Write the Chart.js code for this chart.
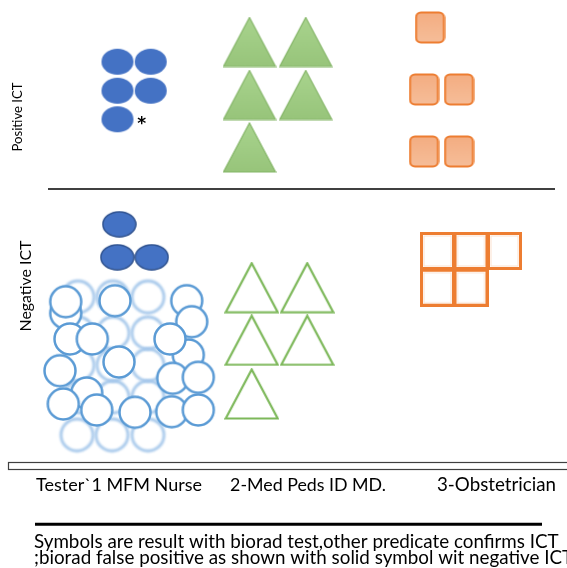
<!DOCTYPE html>
<html>
<head>
<meta charset="utf-8">
<title>ICT symbols by tester</title>
<script src="https://cdn.jsdelivr.net/npm/chart.js@4.4.1/dist/chart.umd.min.js"></script>
<style>
    html, body { margin: 0; padding: 0; background: #ffffff; }
    #chart { display: block; }
</style>
</head>
<body>
<canvas id="chart" width="567" height="568"></canvas>
<script>
// Tester groups and the two ICT result rows
const categories = ['Tester`1 MFM Nurse', '2-Med Peds ID MD.', '3-Obstetrician'];
const categoryCenters = [119, 308, 496.5];
const rowLabels = ['Positive ICT', 'Negative ICT'];
const captionLines = [
    'Symbols are result with biorad test,other predicate confirms ICT',
    ';biorad false positive as shown with solid symbol wit negative ICT'
];

// Symbol positions (figure units, y counted from the top)
const tester1Positive = [[117.5, 61.7], [150.7, 61.7], [117.5, 90.7], [150.7, 90.7], [117.5, 119.3]];
const tester1FalsePositive = [[119.3, 224.3], [117.3, 257.3], [151.7, 257.3]];
const tester1NegativeBack = [
    [78, 297], [113, 297], [148, 297],
    [78, 333], [113, 333], [148, 333],
    [78, 365], [113, 365], [148, 365],
    [80, 397], [113, 397], [148, 397],
    [77, 435], [112, 435], [148, 435]
];
const tester1Negative = [
    [65.7, 313.3], [65.7, 301.7], [115, 300.7], [186.7, 300.7], [191.7, 321.7],
    [70, 339], [92.3, 339], [188.3, 355], [170, 339], [119, 362],
    [60, 370.7], [86.7, 393], [172.7, 378.3], [198.3, 377.3],
    [63.3, 404], [96.7, 410], [135, 412.3], [171.7, 411.7], [198.3, 410]
];
const tester2Positive = [[249.5, 42], [305.7, 42], [249.5, 95], [305.7, 95], [249.5, 147.5]];
const tester2Negative = [[251.7, 287.7], [307.2, 287.7], [251.7, 340.3], [307.2, 340.3], [251.7, 394]];
const tester3Positive = [[430, 27.5], [424, 89.5], [459, 89.5], [424, 151.5], [459, 151.5]];
const tester3Negative = [[437.5, 251], [471, 251], [504.5, 251], [437.5, 287.7], [471, 287.7]];

const FONT = 'Lato, "Open Sans", sans-serif';

function toPoints(list) {
    return list.map(p => ({ x: p[0], y: p[1] }));
}

// Small offscreen canvases used as point styles
function sprite(w, h, draw) {
    const c = document.createElement('canvas');
    c.width = w;
    c.height = h;
    draw(c.getContext('2d'), w, h);
    return c;
}

const solidEllipse = sprite(34, 28, (ctx, w, h) => {
    ctx.filter = 'blur(0.5px)';
    ctx.fillStyle = '#4472C4';
    ctx.beginPath();
    ctx.ellipse(w / 2, h / 2, w / 2 - 1, h / 2 - 1, 0, 0, Math.PI * 2);
    ctx.fill();
});

const outlinedEllipse = sprite(35, 27, (ctx, w, h) => {
    ctx.fillStyle = '#4472C4';
    ctx.strokeStyle = '#2F528F';
    ctx.lineWidth = 1.5;
    ctx.beginPath();
    ctx.ellipse(w / 2, h / 2, w / 2 - 1, h / 2 - 1, 0, 0, Math.PI * 2);
    ctx.fill();
    ctx.stroke();
});

const openCircle = sprite(36, 36, (ctx, w, h) => {
    ctx.fillStyle = '#ffffff';
    ctx.strokeStyle = '#5B9BD5';
    ctx.lineWidth = 2.5;
    ctx.beginPath();
    ctx.arc(w / 2, h / 2, 15.5, 0, Math.PI * 2);
    ctx.fill();
    ctx.stroke();
});

const fadedCircle = sprite(42, 42, (ctx, w, h) => {
    ctx.filter = 'blur(1.1px)';
    ctx.strokeStyle = '#A3C6EA';
    ctx.lineWidth = 2.8;
    ctx.beginPath();
    ctx.arc(w / 2, h / 2, 16, 0, Math.PI * 2);
    ctx.stroke();
});

const solidTriangle = sprite(54, 51, (ctx, w, h) => {
    const g = ctx.createLinearGradient(0, 0, 0, h);
    g.addColorStop(0, '#A9D48E');
    g.addColorStop(1, '#97C47A');
    ctx.fillStyle = g;
    ctx.strokeStyle = '#84B567';
    ctx.lineWidth = 1.2;
    ctx.beginPath();
    ctx.moveTo(w / 2, 1);
    ctx.lineTo(w - 1, h - 1);
    ctx.lineTo(1, h - 1);
    ctx.closePath();
    ctx.fill();
    ctx.stroke();
});

const openTriangle = sprite(55, 52, (ctx, w, h) => {
    ctx.fillStyle = '#ffffff';
    ctx.strokeStyle = '#7DB85A';
    ctx.lineWidth = 2.2;
    ctx.beginPath();
    ctx.moveTo(w / 2, 1.5);
    ctx.lineTo(w - 1.5, h - 1.5);
    ctx.lineTo(1.5, h - 1.5);
    ctx.closePath();
    ctx.fill();
    ctx.stroke();
});

const solidSquare = sprite(31, 33, (ctx, w, h) => {
    const g = ctx.createLinearGradient(0, 0, 0, h);
    g.addColorStop(0, '#F3AC80');
    g.addColorStop(1, '#F6BE9A');
    ctx.fillStyle = g;
    ctx.strokeStyle = '#ED7D31';
    ctx.lineWidth = 2.2;
    ctx.beginPath();
    ctx.roundRect(1.5, 1.5, w - 3, h - 3, 5);
    ctx.fill();
    ctx.stroke();
});

const openSquare = sprite(35, 38, (ctx, w, h) => {
    ctx.strokeStyle = '#ED7D31';
    ctx.lineWidth = 3;
    ctx.strokeRect(1.5, 1.5, w - 3, h - 3);
    ctx.strokeStyle = '#FBE2D0';
    ctx.lineWidth = 1;
    ctx.strokeRect(4, 4, w - 8, h - 8);
});

function symbolSet(label, list, style, order) {
    return {
        label,
        data: toPoints(list),
        pointStyle: style,
        pointRadius: 10,
        pointHoverRadius: 10,
        order
    };
}

// Fit a text to the width it takes in the picture
function fitFont(ctx, text, width, weight) {
    ctx.font = `${weight || ''} 20px ${FONT}`;
    const size = 20 * width / ctx.measureText(text).width;
    return `${weight || ''} ${size.toFixed(2)}px ${FONT}`;
}

const decorations = {
    id: 'decorations',
    afterDatasetsDraw(chart) {
        const { ctx, scales: { x, y } } = chart;
        ctx.save();
        ctx.fillStyle = '#000000';
        ctx.strokeStyle = '#000000';

        // asterisk beside the last positive circle of tester 1
        ctx.font = `bold 17px "DejaVu Sans", sans-serif`;
        ctx.textAlign = 'center';
        ctx.textBaseline = 'alphabetic';
        ctx.fillText('*', x.getPixelForValue(141.7), y.getPixelForValue(128.5));

        // line between positive and negative rows
        ctx.lineWidth = 1.5;
        ctx.beginPath();
        ctx.moveTo(x.getPixelForValue(48), y.getPixelForValue(189));
        ctx.lineTo(x.getPixelForValue(555), y.getPixelForValue(189));
        ctx.stroke();

        // base frame under the plot
        ctx.strokeStyle = '#404040';
        ctx.lineWidth = 1.2;
        ctx.strokeRect(x.getPixelForValue(8.5), y.getPixelForValue(462.5), 600, 7);

        // row labels
        ctx.textAlign = 'center';
        ctx.textBaseline = 'middle';
        ctx.save();
        ctx.translate(x.getPixelForValue(18), y.getPixelForValue(117));
        ctx.rotate(-Math.PI / 2);
        ctx.font = fitFont(ctx, rowLabels[0], 69);
        ctx.fillText(rowLabels[0], 0, 0);
        ctx.restore();
        ctx.save();
        ctx.translate(x.getPixelForValue(26), y.getPixelForValue(286));
        ctx.rotate(-Math.PI / 2);
        ctx.font = fitFont(ctx, rowLabels[1], 91);
        ctx.fillText(rowLabels[1], 0, 0);
        ctx.restore();

        // tester names
        const catWidths = [166, 156, 119];
        ctx.textBaseline = 'alphabetic';
        categories.forEach((c, i) => {
            ctx.font = fitFont(ctx, c, catWidths[i]);
            ctx.fillText(c, x.getPixelForValue(categoryCenters[i]), y.getPixelForValue(490.5));
        });

        // caption with rule above
        ctx.strokeStyle = '#000000';
        ctx.lineWidth = 3;
        ctx.beginPath();
        ctx.moveTo(x.getPixelForValue(35), y.getPixelForValue(524.3));
        ctx.lineTo(x.getPixelForValue(542), y.getPixelForValue(524.3));
        ctx.stroke();

        ctx.textAlign = 'left';
        ctx.font = fitFont(ctx, captionLines[0], 525);
        ctx.fillText(captionLines[0], x.getPixelForValue(34), y.getPixelForValue(547.5));
        ctx.fillText(captionLines[1], x.getPixelForValue(34), y.getPixelForValue(564));

        ctx.restore();
    }
};

new Chart(document.getElementById('chart'), {
    type: 'scatter',
    data: {
        datasets: [
            symbolSet('Tester 1 positive', tester1Positive, solidEllipse, 1),
            symbolSet('Tester 1 false positive', tester1FalsePositive, outlinedEllipse, 1),
            symbolSet('Tester 1 negative', tester1Negative, openCircle, 2),
            symbolSet('Tester 1 negative (behind)', tester1NegativeBack, fadedCircle, 3),
            symbolSet('Tester 2 positive', tester2Positive, solidTriangle, 1),
            symbolSet('Tester 2 negative', tester2Negative, openTriangle, 1),
            symbolSet('Tester 3 positive', tester3Positive, solidSquare, 1),
            symbolSet('Tester 3 negative', tester3Negative, openSquare, 1)
        ]
    },
    options: {
        responsive: false,
        animation: false,
        events: [],
        layout: { padding: 0, autoPadding: false },
        plugins: {
            legend: { display: false },
            tooltip: { enabled: false }
        },
        scales: {
            x: { type: 'linear', min: 0, max: 567, display: false },
            y: { type: 'linear', min: 0, max: 568, reverse: true, display: false }
        }
    },
    plugins: [decorations]
});
</script>
</body>
</html>
